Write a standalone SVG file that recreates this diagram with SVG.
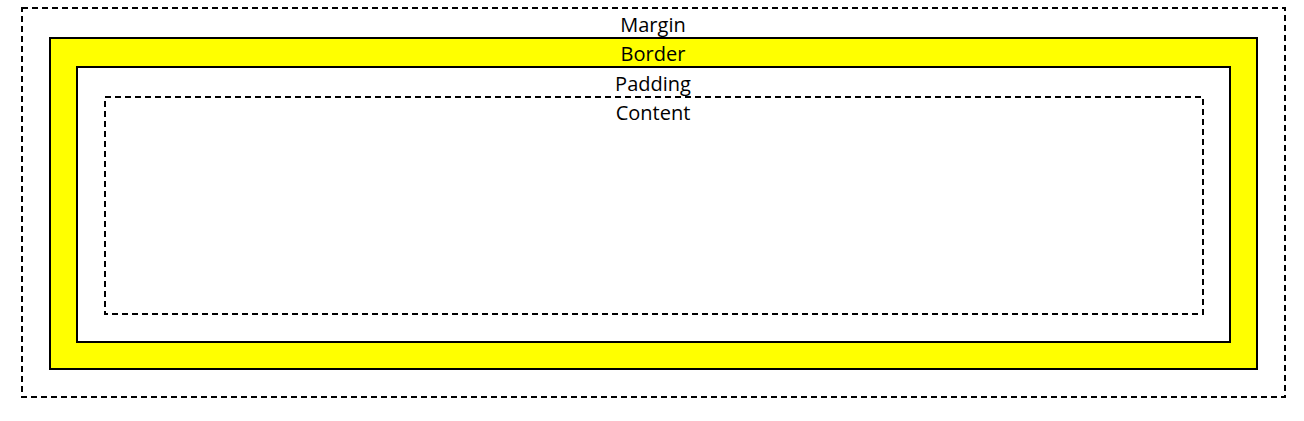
<svg xmlns="http://www.w3.org/2000/svg" width="1304" height="421" viewBox="0 0 1304 421">
<style>
.dash{fill:none;stroke:#000;stroke-width:2;stroke-dasharray:6,4}
.solid{stroke:#000;stroke-width:2}
.lbl{font-family:"Open Sans","Noto Sans","Liberation Sans",sans-serif;font-size:20px;fill:#000;text-anchor:middle}
</style>
<rect width="1304" height="421" fill="#fff"/>
<g id="margin">
<rect class="dash" x="22" y="8" width="1263" height="389"/>
<text class="lbl" x="653" y="32">Margin</text>
</g>
<g id="border">
<rect class="solid" x="50" y="38" width="1207" height="331" fill="#ffff00"/>
<text class="lbl" x="653" y="61">Border</text>
</g>
<g id="padding">
<rect class="solid" x="77" y="67" width="1153" height="275" fill="#fff"/>
<text class="lbl" x="653" y="91">Padding</text>
</g>
<g id="content">
<rect class="dash" x="105" y="97" width="1098" height="217"/>
<text class="lbl" x="653" y="120">Content</text>
</g>
</svg>
